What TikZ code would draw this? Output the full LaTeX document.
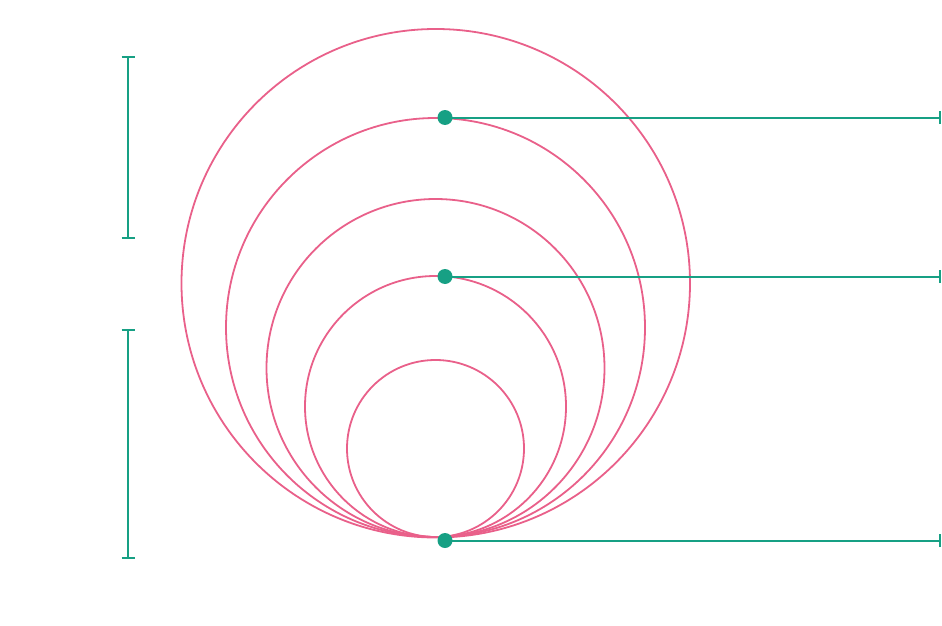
\documentclass[tikz,border=0pt]{standalone}
\definecolor{pinkc}{HTML}{E9608A}
\definecolor{greenc}{HTML}{17A084}
\begin{document}
\begin{tikzpicture}[x=1pt,y=-1pt,
  ring/.style={draw=pinkc,line width=1.8pt},
  gline/.style={draw=greenc,line width=2pt},
  dotnode/.style={circle,fill=greenc,inner sep=0pt,minimum size=15pt},
  endtick/.style={draw=greenc,line width=2pt}]
\useasboundingbox (0,0) rectangle (942,626);
% circles tangent at bottom
\draw[ring] (435.75,283.25) circle (254.25);
\draw[ring] (435.5,327.5) circle (209.5);
\draw[ring] (435.5,368) circle (169);
\draw[ring] (435.5,406.5) circle (130.5);
\draw[ring] (435.5,448.5) circle (88.5);
% dots
\node[dotnode] (d1) at (445,117.5) {};
\node[dotnode] (d2) at (445,276.5) {};
\node[dotnode] (d3) at (445,540.5) {};
\coordinate (e1) at (940,117.5);
\coordinate (e2) at (940,276.5);
\coordinate (e3) at (940,540.5);
\draw[gline] (d1.center) -- (e1);
\draw[gline] (d2.center) -- (e2);
\draw[gline] (d3.center) -- (e3);
\foreach \e in {e1,e2,e3}{
  \draw[endtick] ([yshift=-6.5]\e) -- ([yshift=6.5]\e);
}
% left brackets
\coordinate (b1t) at (128,57);
\coordinate (b1b) at (128,238);
\coordinate (b2t) at (128,329.5);
\coordinate (b2b) at (128,558);
\draw[gline] (b1t) -- (b1b);
\draw[gline] (b2t) -- (b2b);
\foreach \b in {b1t,b1b,b2t,b2b}{
  \draw[endtick] ([xshift=-6.5]\b) -- ([xshift=6.5]\b);
}
\end{tikzpicture}
\end{document}
